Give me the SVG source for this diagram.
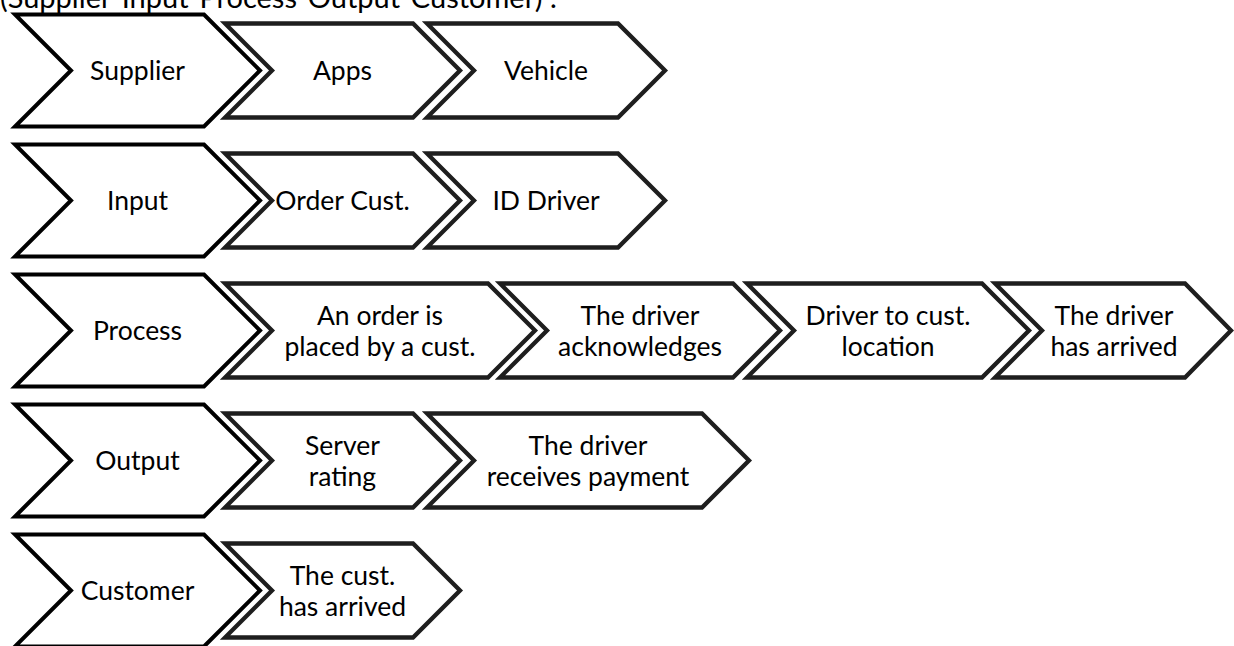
<svg xmlns="http://www.w3.org/2000/svg" width="1234" height="646" viewBox="0 0 1234 646">
<style>
.bg{fill:#ffffff}
.parent{fill:#ffffff;stroke:#000000;stroke-width:4;stroke-linejoin:miter}
.child{fill:#ffffff;stroke:#1e1e1e;stroke-width:4.3;stroke-linejoin:miter}
.t{font-family:Lato,"Open Sans","Liberation Sans",sans-serif;font-size:26.5px;fill:#000000;text-anchor:middle}
.title{font-family:Lato,"Open Sans","Liberation Sans",sans-serif;font-size:29px;fill:#000000}
</style>
<rect class="bg" x="0" y="0" width="1234" height="646"/>
<text class="title" x="0" y="8">(Supplier-Input-Process-Output-Customer) :</text>
<g id="connectors"></g>

<g id="row-supplier">
<g id="supplier"><path class="parent" d="M15,14.5 H204 L260,70.5 L204,126.5 H15 L71,70.5 Z"/><text class="t" x="137.5" y="79.5">Supplier</text></g>
<g id="apps"><path class="child" d="M225,23.5 H413 L460,70.5 L413,117.5 H225 L272,70.5 Z"/><text class="t" x="342.5" y="79.5">Apps</text></g>
<g id="vehicle"><path class="child" d="M427,23.5 H618 L665,70.5 L618,117.5 H427 L474,70.5 Z"/><text class="t" x="546" y="79.5">Vehicle</text></g>
</g>

<g id="row-input">
<g id="input"><path class="parent" d="M15,144.5 H204 L260,200.5 L204,256.5 H15 L71,200.5 Z"/><text class="t" x="137.5" y="209.5">Input</text></g>
<g id="order-cust"><path class="child" d="M225,153.5 H413 L460,200.5 L413,247.5 H225 L272,200.5 Z"/><text class="t" x="342.5" y="209.5">Order Cust.</text></g>
<g id="id-driver"><path class="child" d="M427,153.5 H618 L665,200.5 L618,247.5 H427 L474,200.5 Z"/><text class="t" x="546" y="209.5">ID Driver</text></g>
</g>

<g id="row-process">
<g id="process"><path class="parent" d="M15,274.5 H204 L260,330.5 L204,386.5 H15 L71,330.5 Z"/><text class="t" x="137.5" y="339.5">Process</text></g>
<g id="order-placed"><path class="child" d="M225,283.5 H488 L535,330.5 L488,377.5 H225 L272,330.5 Z"/><text class="t" x="380" y="324.5">An order is</text><text class="t" x="380" y="355.5">placed by a cust.</text></g>
<g id="driver-ack"><path class="child" d="M500,283.5 H733 L780,330.5 L733,377.5 H500 L547,330.5 Z"/><text class="t" x="640" y="324.5">The driver</text><text class="t" x="640" y="355.5">acknowledges</text></g>
<g id="driver-to-cust"><path class="child" d="M747,283.5 H982 L1029,330.5 L982,377.5 H747 L794,330.5 Z"/><text class="t" x="888" y="324.5">Driver to cust.</text><text class="t" x="888" y="355.5">location</text></g>
<g id="driver-arrived"><path class="child" d="M995,283.5 H1185 L1231,330.5 L1185,377.5 H995 L1042,330.5 Z"/><text class="t" x="1114" y="324.5">The driver</text><text class="t" x="1114" y="355.5">has arrived</text></g>
</g>

<g id="row-output">
<g id="output"><path class="parent" d="M15,404.5 H204 L260,460.5 L204,516.5 H15 L71,460.5 Z"/><text class="t" x="137.5" y="469.5">Output</text></g>
<g id="server-rating"><path class="child" d="M225,413.5 H413 L460,460.5 L413,507.5 H225 L272,460.5 Z"/><text class="t" x="342.5" y="454.5">Server</text><text class="t" x="342.5" y="485.5">rating</text></g>
<g id="driver-payment"><path class="child" d="M427,413.5 H702 L749,460.5 L702,507.5 H427 L474,460.5 Z"/><text class="t" x="588" y="454.5">The driver</text><text class="t" x="588" y="485.5">receives payment</text></g>
</g>

<g id="row-customer">
<g id="customer"><path class="parent" d="M15,534.5 H204 L260,590.5 L204,646.5 H15 L71,590.5 Z"/><text class="t" x="137.5" y="599.5">Customer</text></g>
<g id="cust-arrived"><path class="child" d="M225,543.5 H413 L460,590.5 L413,637.5 H225 L272,590.5 Z"/><text class="t" x="342.5" y="584.5">The cust.</text><text class="t" x="342.5" y="615.5">has arrived</text></g>
</g>
</svg>
